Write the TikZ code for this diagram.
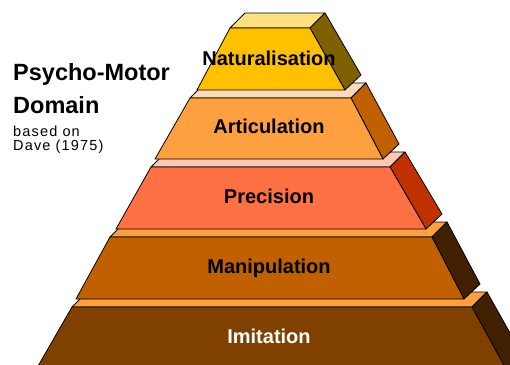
\documentclass[tikz,border=0pt]{standalone}
\usepackage{fontspec}
\setmainfont{Liberation Sans}
\newfontfamily\spacedfont[LetterSpace=8]{Liberation Sans}
\usepackage{xcolor}
\usepackage{tikz}
\usetikzlibrary{positioning,calc}

\definecolor{natfront}{HTML}{FFC000}
\definecolor{nattop}{HTML}{FFE080}
\definecolor{natside}{HTML}{7F6000}
\definecolor{artfront}{HTML}{FFA040}
\definecolor{arttop}{HTML}{FFDAB9}
\definecolor{artside}{HTML}{C06000}
\definecolor{prefront}{HTML}{FF7044}
\definecolor{pretop}{HTML}{FFC8B2}
\definecolor{preside}{HTML}{C03000}
\definecolor{manfront}{HTML}{C06000}
\definecolor{mantop}{HTML}{FFA040}
\definecolor{manside}{HTML}{402000}
\definecolor{imifront}{HTML}{804000}
\definecolor{imitop}{HTML}{FFA040}
\definecolor{imiside}{HTML}{402000}

\tikzset{
  face/.style={draw=black, line width=0.8pt, line join=round},
  tierlabel/.style={font=\fontsize{20}{24}\selectfont\bfseries, inner sep=0pt, anchor=base},
  titletext/.style={font=\fontsize{23.5}{28}\selectfont\bfseries, inner sep=0pt, anchor=base west},
  subtext/.style={font=\fontsize{14.5}{17}\selectfont\spacedfont, inner sep=0pt, anchor=base west}
}

\begin{document}
\begin{tikzpicture}[x=1pt,y=-1pt]
    \useasboundingbox (0,0) rectangle (510,364);
    \clip (0,0) rectangle (510,364);

    % tiers from the base up: top y / bottom y / corners / colours / name / text
    \foreach \ty/\by/\tl/\tr/\bl/\br/\cf/\ct/\cs/\nm/\txt/\tc/\lb in {
        307/380/72/472/30/512/imifront/imitop/imiside/imitation/Imitation/white/343,
        237/299/110/432/76/464/manfront/mantop/manside/manipulation/Manipulation/black/273,
        167/229/151/390/116/426/prefront/pretop/preside/precision/Precision/black/203,
        98/159/190/351/155/383/artfront/arttop/artside/articulation/Articulation/black/133,
        28/90/230/310/197/345/natfront/nattop/natside/naturalisation/Naturalisation/black/65}{
        \filldraw[face, fill=\ct] (\tl,\ty) -- (\tr,\ty) -- (\tr+15,\ty-15) -- (\tl+15,\ty-15) -- cycle;
        \filldraw[face, fill=\cs] (\tr,\ty) -- (\tr+15,\ty-15) -- (\br+16,\by-15) -- (\br,\by) -- cycle;
        \filldraw[face, fill=\cf] (\tl,\ty) -- (\tr,\ty) -- (\br,\by) -- (\bl,\by) -- cycle;
        \node[tierlabel, text=\tc] (\nm) at (269,\lb) {\txt};
    }

    \node[titletext] (title) at (13,80) {Psycho-Motor};
    \node[titletext] (domain) at (13,113) {Domain};
    \node[subtext] (basedon) at (13,136) {based on};
    \node[subtext] (dave) at (13,150) {Dave (1975)};
\end{tikzpicture}
\end{document}
